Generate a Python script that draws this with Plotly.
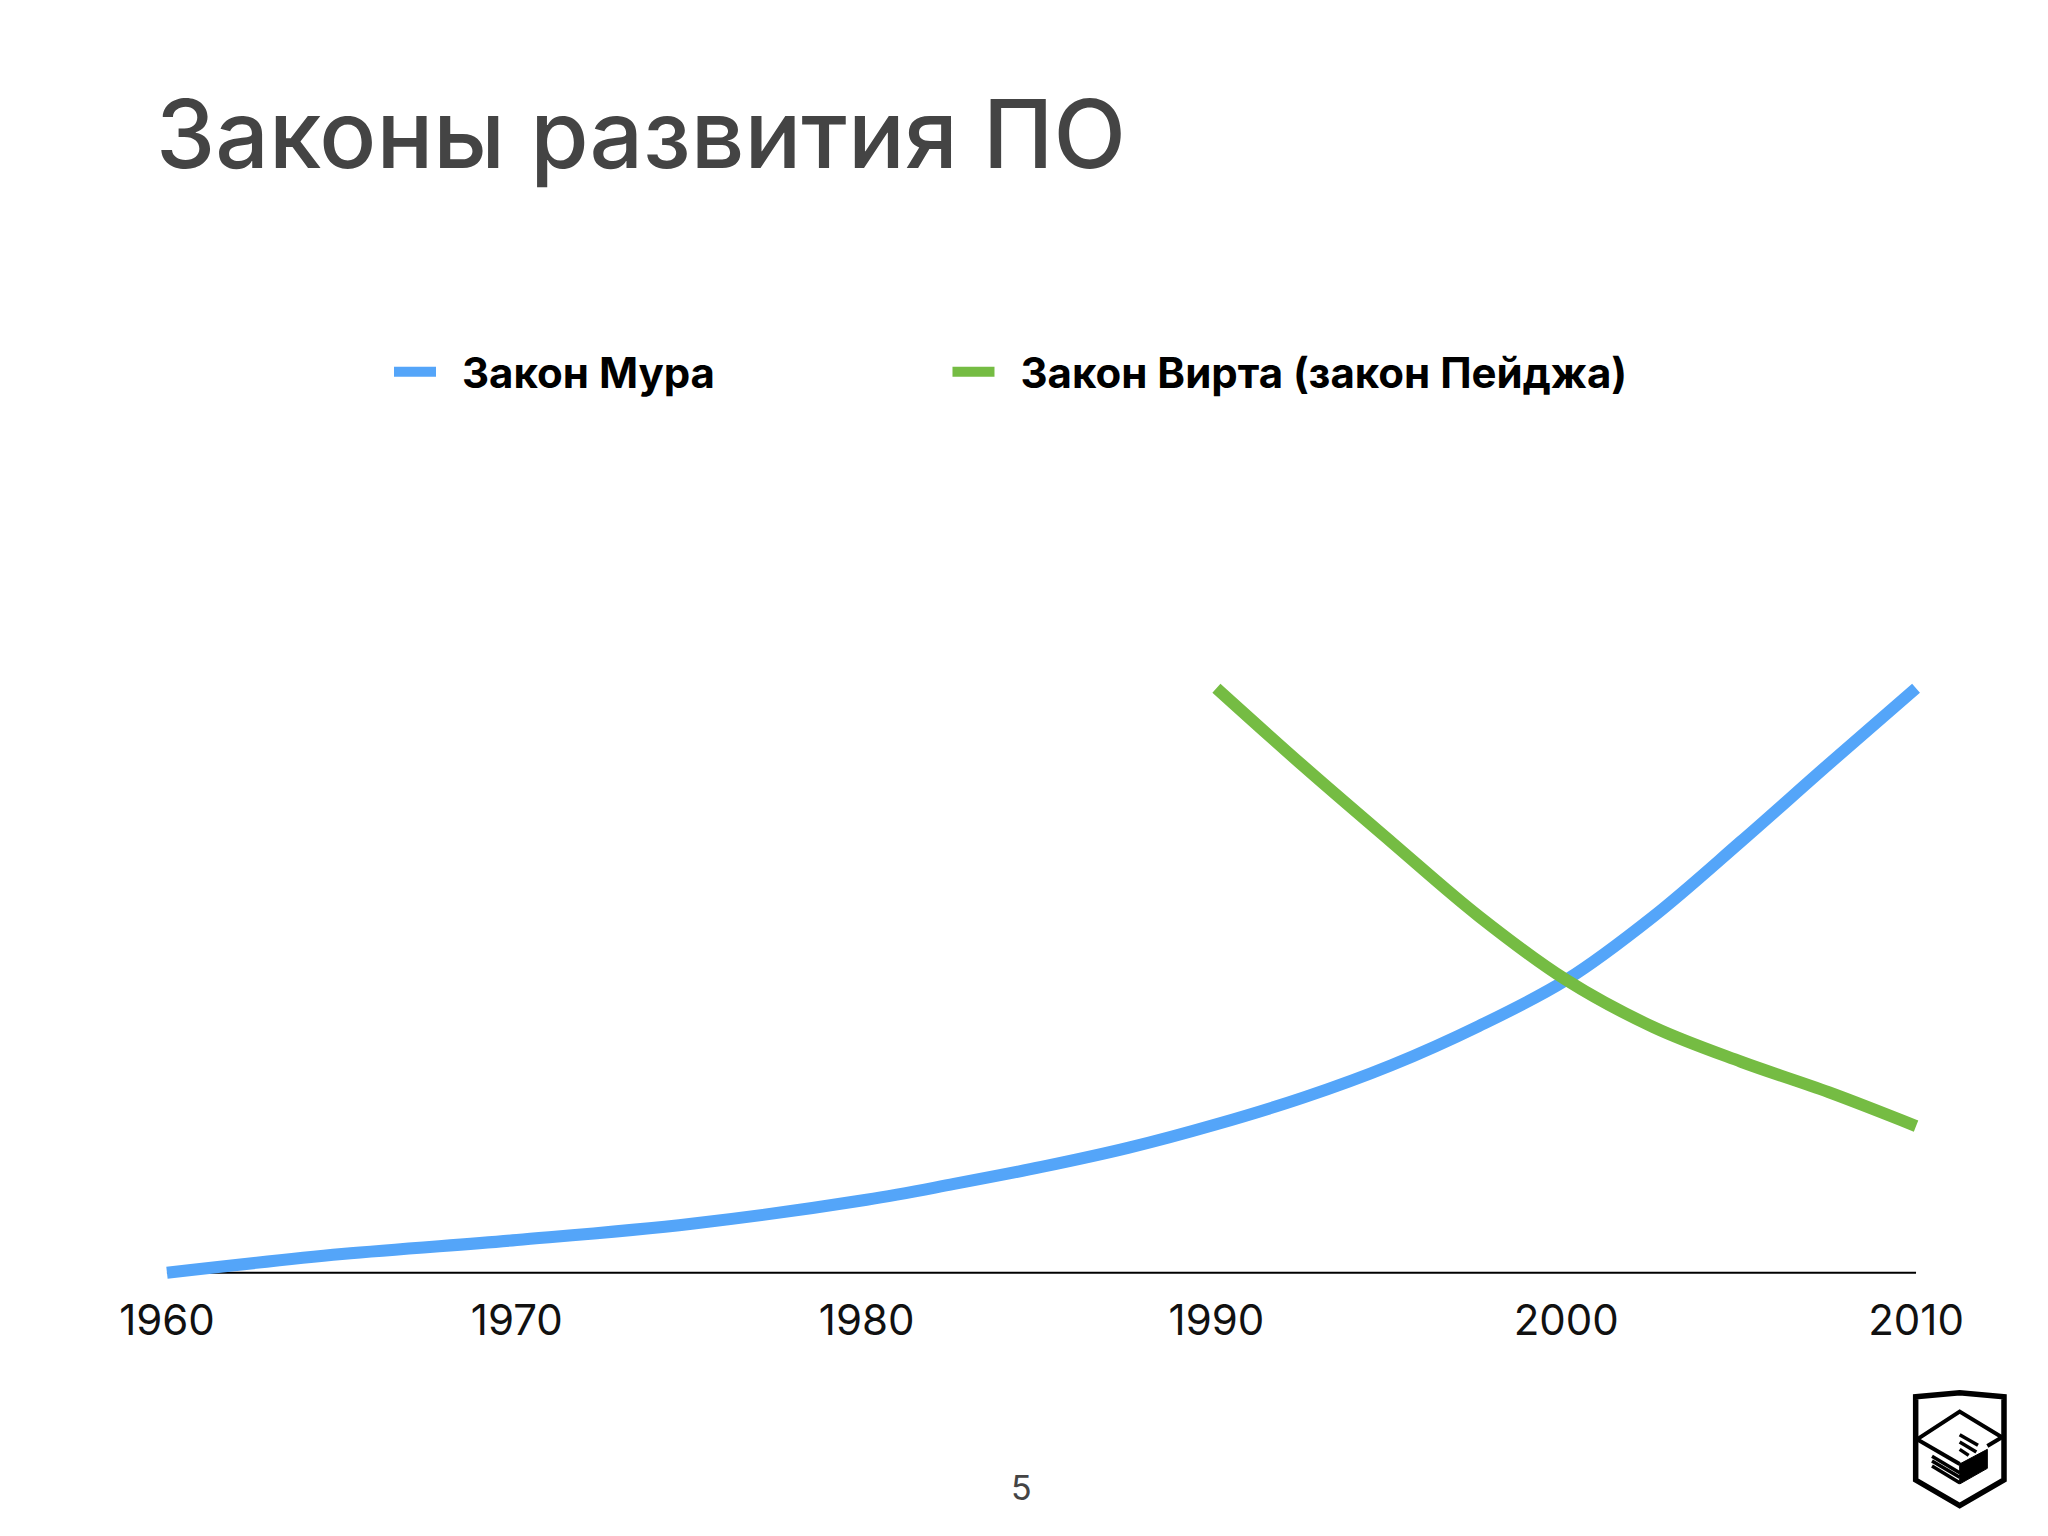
import plotly.graph_objects as go

TITLE = "Законы развития ПО"
PAGE = "5"
TICK_YEARS = [1960, 1970, 1980, 1990, 2000, 2010]

MOORE_NAME = "Закон Мура"
MOORE_X = [1960, 1965, 1970, 1975, 1980, 1982.5, 1985, 1987.5, 1990, 1992.5, 1995, 1997.5, 2000, 2002.5, 2005, 2007.5, 2010]
MOORE_Y = [0, 3.2, 5.6, 8.4, 12.5, 15.2, 18.1, 21.4, 25.4, 30.0, 35.5, 42.2, 50.1, 61.0, 73.8, 87.0, 100]

WIRTH_NAME = "Закон Вирта (закон Пейджа)"
WIRTH_X = [1990, 1992.5, 1995, 1997.5, 2000, 2002.5, 2005, 2007.5, 2010]
WIRTH_Y = [100, 86.6, 73.7, 61.0, 50.1, 42.0, 36.1, 30.9, 25.1]

AXIS_X = [1960, 2010]
AXIS_Y = [0, 0]

W, H = 2048, 1536
L, R, T, B = 97, 62, 659, 234
BLUE, GREEN = "#54A5F9", "#75BC43"

fig = go.Figure()
fig.add_trace(go.Scatter(x=AXIS_X, y=AXIS_Y, mode="lines", showlegend=False, hoverinfo="skip",
                         line=dict(color="black", width=2)))
fig.add_trace(go.Scatter(x=MOORE_X, y=MOORE_Y, name="\u2002" + MOORE_NAME + "\u2002" * 10 + "\u2005\u2006", mode="lines",
                         line=dict(color=BLUE, width=12, shape="spline", smoothing=1.0)))
fig.add_trace(go.Scatter(x=WIRTH_X, y=WIRTH_Y, name="\u2002" + WIRTH_NAME, mode="lines",
                         line=dict(color=GREEN, width=12, shape="spline", smoothing=1.0)))


def px(x, y):
    return (x - L) / (W - L - R), 1 - (y - T) / (H - T - B)


def z(x, y):
    return px(1848 + x / 3, 1360 + y / 3)


def path(points, close=False):
    s = "M" + " L".join("%.5f,%.5f" % z(*p) for p in points)
    return s + (" Z" if close else "")


shapes = []
for pts, width, closed in [
    ([(203, 110), (335, 98), (468, 110), (468, 360), (335, 437), (203, 360)], 5.5, True),
    ([(207, 238), (335, 155), (462, 232), (418, 258)], 4, False),
    ([(207, 238), (335, 312)], 4, False),
    ([(335, 224), (390, 256)], 3.5, False), ([(335, 246), (385, 276)], 3.5, False), ([(335, 268), (362, 286)], 3.5, False),
    ([(252, 289), (335, 338)], 3.5, False), ([(252, 303), (335, 352)], 3.5, False), ([(252, 318), (335, 368)], 3.5, False),
]:
    shapes.append(dict(type="path", xref="paper", yref="paper", path=path(pts, closed),
                       line=dict(color="black", width=width)))
shapes.append(dict(type="path", xref="paper", yref="paper",
                   path=path([(335, 312), (418, 268), (418, 325), (335, 372)], True),
                   fillcolor="black", line=dict(color="black", width=1)))

annotations = [
    dict(text=TITLE, xref="paper", yref="paper", x=px(154, 0)[0], y=px(0, 134)[1], xanchor="left", yanchor="middle",
         showarrow=False, font=dict(family="Inter, Open Sans, sans-serif", size=94.5, color="#444444", weight=500)),
    dict(text=PAGE, xref="paper", yref="paper", x=px(1021, 0)[0], y=px(0, 1487)[1], xanchor="center", yanchor="middle",
         showarrow=False, font=dict(family="Inter, sans-serif", size=34, color="#444444")),
]

fig.update_layout(
    width=W, height=H, margin=dict(l=L, r=R, t=T, b=B), autosize=False,
    paper_bgcolor="white", plot_bgcolor="white",
    xaxis=dict(range=[1958, 2012], tickmode="array", tickvals=TICK_YEARS, ticktext=[str(t) for t in TICK_YEARS],
               showgrid=False, zeroline=False, showline=False, ticks="",
               ticklabelstandoff=-10, tickfont=dict(family="Inter, sans-serif", size=42, color="#111111")),
    yaxis=dict(range=[-5, 105], visible=False),
    legend=dict(orientation="h", x=px(389, 0)[0], y=px(0, 372)[1], xanchor="left", yanchor="middle",
                itemwidth=42, font=dict(family="Inter, sans-serif", size=42, color="black", weight=700)),
    shapes=shapes, annotations=annotations,
)

fig.write_html("out.html", post_script="document.body.style.margin='0';", config=dict(displayModeBar=False))
